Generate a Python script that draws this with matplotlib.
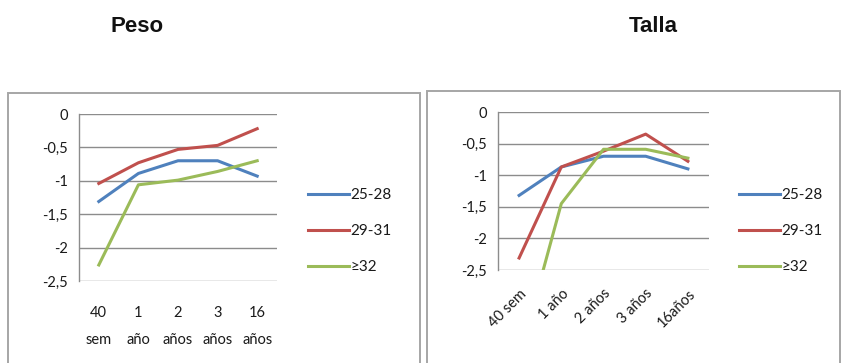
import matplotlib
matplotlib.use("Agg")
import matplotlib.pyplot as plt
from matplotlib.patches import Rectangle

# Z-score curves by gestational-age group
series_names = ["25-28", "29-31", "≥32"]
colors = ["#4F81BD", "#C0504D", "#9BBB59"]

peso_labels = ["40\nsem", "1\naño", "2\naños", "3\naños", "16\naños"]
peso_25_28 = [-1.31, -0.89, -0.70, -0.70, -0.93]
peso_29_31 = [-1.04, -0.73, -0.53, -0.47, -0.22]
peso_32 = [-2.26, -1.06, -0.99, -0.86, -0.70]

talla_labels = ["40 sem", "1 año", "2 años", "3 años", "16años"]
talla_25_28 = [-1.32, -0.87, -0.70, -0.70, -0.90]
talla_29_31 = [-2.31, -0.87, -0.62, -0.35, -0.78]
talla_32 = [-3.9, -1.45, -0.59, -0.59, -0.73]

yticks = [0, -0.5, -1, -1.5, -2, -2.5]
ytick_labels = ["0", "-0,5", "-1", "-1,5", "-2", "-2,5"]

W, H = 842, 363
fig = plt.figure(figsize=(W / 100, H / 100), dpi=100)
fig.patch.set_facecolor("white")

tick_font = dict(family=["Lato", "DejaVu Sans"], size=10.5, color="#1a1a1a")


def px_rect(x0, y0, x1, y1):
    """Figure-fraction rectangle from pixel corners (top-left origin)."""
    return [x0 / W, (H - y1) / H, (x1 - x0) / W, (y1 - y0) / H]


def draw_panel(rect, values, xlabels, rotate):
    ax = fig.add_axes(rect)
    x = list(range(len(xlabels)))
    for vals, c, name in zip(values, colors, series_names):
        ax.plot(x, vals, color=c, lw=2.2, label=name, zorder=3)
    ax.set_xlim(-0.5, len(xlabels) - 0.5)
    ax.set_ylim(-2.5, 0)
    ax.set_yticks(yticks)
    ax.set_yticklabels(ytick_labels, **tick_font)
    ax.set_xticks(x)
    if rotate:
        ax.set_xticklabels(xlabels, rotation=45, ha="right", va="top",
                           rotation_mode="anchor", **tick_font)
        ax.tick_params(axis="x", pad=12)
    else:
        ax.set_xticklabels(xlabels, linespacing=2.2, **tick_font)
        ax.tick_params(axis="x", pad=18)
    ax.tick_params(axis="y", length=0, pad=8)
    ax.tick_params(axis="x", length=0)
    ax.grid(axis="y", color="#8C8C8C", lw=1.0)
    ax.set_axisbelow(True)
    for s in ["top", "right", "bottom"]:
        ax.spines[s].set_visible(False)
    ax.spines["left"].set_color("#8C8C8C")
    ax.spines["left"].set_linewidth(1.0)
    ax.set_facecolor("none")
    return ax


# Outer chart frames
for (x0, y0, x1, y1) in [(8, 93, 420, 370), (427, 91, 840, 370)]:
    fig.patches.append(Rectangle((x0 / W, (H - y1) / H), (x1 - x0) / W, (y1 - y0) / H,
                                 transform=fig.transFigure, fill=False,
                                 edgecolor="#A6A6A6", lw=1.4))

ax1 = draw_panel(px_rect(79, 114, 277, 281),
                 [peso_25_28, peso_29_31, peso_32], peso_labels, rotate=False)
ax2 = draw_panel(px_rect(498, 112, 709, 270),
                 [talla_25_28, talla_29_31, talla_32], talla_labels, rotate=True)

# Legends to the right of each plot
for ax, x_anchor in [(ax1, 308), (ax2, 739)]:
    leg = fig.legend(handles=ax.get_lines(), labels=series_names,
                     loc="center left", bbox_to_anchor=(x_anchor / W, (H - 231) / H),
                     frameon=False, borderpad=0, borderaxespad=0,
                     handlelength=2.7, handletextpad=0.1, labelspacing=1.45,
                     prop=dict(family=["Lato", "DejaVu Sans"], size=11))
    for t in leg.get_texts():
        t.set_color("#1a1a1a")

# Panel titles
title_font = dict(family=["Liberation Sans", "DejaVu Sans"], size=16,
                  weight="bold", color="#111111", ha="center", va="center")
fig.text(137 / W, (H - 26) / H, "Peso", **title_font)
fig.text(653 / W, (H - 26) / H, "Talla", **title_font)

fig.savefig("out.png", dpi=100, facecolor="white")
